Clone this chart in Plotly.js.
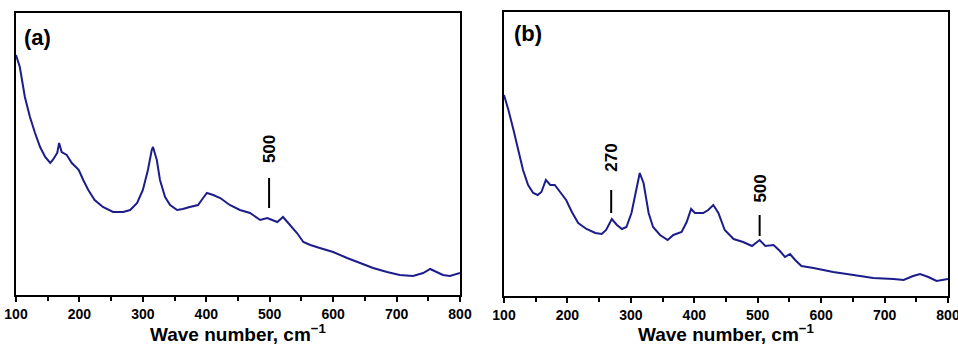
<!DOCTYPE html>
<html>
<head>
<meta charset="utf-8">
<script src="https://cdn.plot.ly/plotly-3.0.1.min.js"></script>
<style>html,body{margin:0;padding:0;background:#fff;}#chart{width:958px;height:345px;}</style>
</head>
<body>
<div id="chart"></div>
<script>
// Panel (a) Raman spectrum (wave number, cm^-1 ; relative intensity, arbitrary units)
const waveA = [100,106,114,122,130,138,146,154,158,165,168,172,180,188,196,199,206,214,224,237,253,269,280,291,300,308,314,316,322,327,335,343,354,363,374,387,395,401,411,422,437,453,469,485,496,504,512,521,532,543,553,564,579,600,622,642,663,685,705,726,742,753,764,773,784,800];
const intensityA = [240,228,198,178,162,148,138,132,135,142,152,143,140,132,127,125,115,105,95,88,83,83,85,92,105,125,145,148,135,115,98,90,85,86,88,90,97,102,100,97,90,85,82,75,77,75,73,78,70,62,53,50,47,43,37,32,27,23,20,19,22,26,23,20,19,22];

// Panel (b)
const waveB = [100,107,115,123,130,138,146,153,159,166,173,180,188,198,207,217,230,244,254,261,270,278,286,293,301,309,314,320,328,335,346,358,367,380,388,395,401,414,422,430,438,448,462,477,491,503,512,525,535,543,551,559,569,588,619,651,682,714,730,745,756,769,782,800];
const intensityB = [201,186,166,146,126,111,103,101,104,116,111,111,104,96,84,73,67,63,62,66,77,71,67,69,83,109,123,113,83,69,61,56,61,64,74,87,83,83,86,91,83,66,57,54,50,56,50,51,45,39,42,36,30,28,24,21,18,17,16,20,22,19,15,17];

const xTickVals = [100,200,300,400,500,600,700,800];
const xTickText = ['100','200','300','400','500','600','700','800'];
const panelLabels = ['(a)','(b)'];
const peakLabelsA = [{wave:499, text:'500'}];
const peakLabelsB = [{wave:269, text:'270'},{wave:503, text:'500'}];

const W = 958, H = 345;
const FONT = 'Liberation Sans, Arial, sans-serif';
const lineColor = '#1c1c8a';

const traces = [
  {x: waveA, y: intensityA, xaxis:'x', yaxis:'y', type:'scatter', mode:'lines',
   line:{color:lineColor, width:2}, showlegend:false, hoverinfo:'skip'},
  {x: waveB, y: intensityB, xaxis:'x2', yaxis:'y2', type:'scatter', mode:'lines',
   line:{color:lineColor, width:2}, showlegend:false, hoverinfo:'skip'}
];

function xaxisDef(domain, anchor){
  return {
    domain: domain, anchor: anchor, range:[100,800],
    showline:true, mirror:true, linecolor:'#000', linewidth:2,
    showgrid:false, zeroline:false,
    ticks:'outside', ticklen:5, tickwidth:2, tickcolor:'#000',
    tickmode:'array', tickvals:xTickVals, ticktext:xTickText,
    ticklabeloverflow:'allow',
    minor:{dtick:50, tick0:0, ticks:'outside', ticklen:4, tickwidth:2, tickcolor:'#000', showgrid:false},
    tickfont:{family:FONT, size:14, color:'#000', weight:'bold'},
    title:{text:'<b>Wave number, cm<sup>−1</sup></b>', font:{family:FONT, size:19, color:'#000'}, standoff:4},
    automargin:false, fixedrange:true
  };
}
function yaxisDef(domain, anchor, range){
  return {
    domain: domain, anchor: anchor, range: range,
    showline:true, mirror:true, linecolor:'#000', linewidth:2,
    showgrid:false, zeroline:false, ticks:'', showticklabels:false,
    automargin:false, fixedrange:true
  };
}

const shapes = [];
const annotations = [];
peakLabelsA.forEach(p => {
  shapes.push({type:'line', xref:'x', yref:'y', x0:p.wave, x1:p.wave, y0:87, y1:117, line:{color:'#000', width:2}});
  annotations.push({xref:'x', yref:'y', x:p.wave, y:146, text:'<b>'+p.text+'</b>', showarrow:false, textangle:-90,
    font:{family:FONT, size:17, color:'#000'}});
});
const bBars = [[83,106,138.5],[60,81,107]];
peakLabelsB.forEach((p,i) => {
  shapes.push({type:'line', xref:'x2', yref:'y2', x0:p.wave, x1:p.wave, y0:bBars[i][0], y1:bBars[i][1], line:{color:'#000', width:2}});
  annotations.push({xref:'x2', yref:'y2', x:p.wave, y:bBars[i][2], text:'<b>'+p.text+'</b>', showarrow:false, textangle:-90,
    font:{family:FONT, size:17, color:'#000'}});
});
annotations.push({xref:'paper', yref:'paper', x:22/W, y:1-38/H, xanchor:'left', yanchor:'middle', text:'<b>'+panelLabels[0]+'</b>', showarrow:false, font:{family:FONT, size:22, color:'#000'}});
annotations.push({xref:'paper', yref:'paper', x:512/W, y:1-34/H, xanchor:'left', yanchor:'middle', text:'<b>'+panelLabels[1]+'</b>', showarrow:false, font:{family:FONT, size:22, color:'#000'}});

const layout = {
  width:W, height:H,
  margin:{l:0, r:0, t:0, b:0, pad:0},
  paper_bgcolor:'#fff', plot_bgcolor:'#fff',
  showlegend:false,
  xaxis: xaxisDef([16/W, 460/W], 'y'),
  yaxis: yaxisDef([50/H, 332/H], 'x', [0, 282]),
  xaxis2: xaxisDef([504/W, 948/W], 'y2'),
  yaxis2: yaxisDef([49/H, 333/H], 'x2', [0, 284]),
  shapes: shapes,
  annotations: annotations
};

Plotly.newPlot('chart', traces, layout, {staticPlot:true, displayModeBar:false});
</script>
</body>
</html>
